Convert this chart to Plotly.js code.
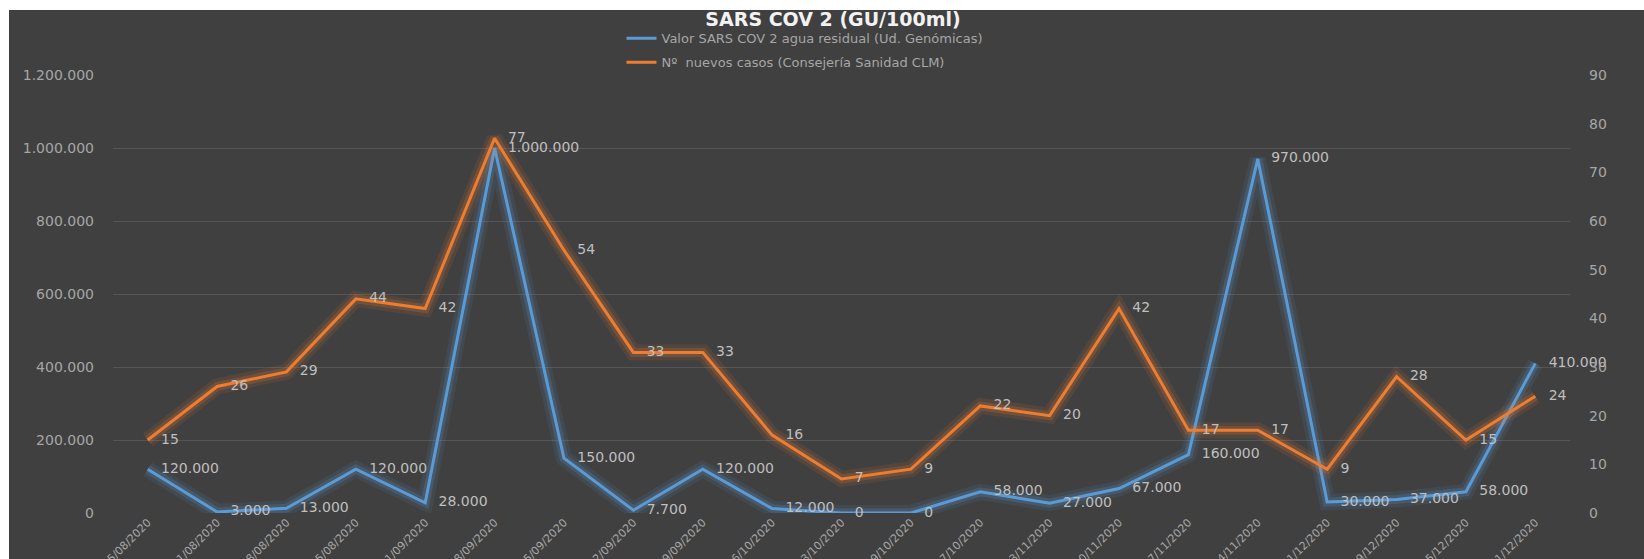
<!DOCTYPE html>
<html>
<head>
<meta charset="utf-8">
<script src="https://cdn.plot.ly/plotly-3.0.1.min.js"></script>
<style>
html,body{margin:0;padding:0;background:#ffffff;width:1644px;height:559px;overflow:hidden;}
#chart{position:absolute;left:9px;top:10px;width:1635px;height:549px;}
</style>
</head>
<body>
<div id="chart"></div>
<script>
// ---- data ----
var fechas = ["05/08/2020","11/08/2020","18/08/2020","25/08/2020","01/09/2020","08/09/2020","15/09/2020",
  "22/09/2020","29/09/2020","06/10/2020","13/10/2020","19/10/2020","27/10/2020","03/11/2020",
  "10/11/2020","17/11/2020","24/11/2020","01/12/2020","09/12/2020","15/12/2020","21/12/2020"];
var valorAgua = [120000, 3000, 13000, 120000, 28000, 1000000, 150000, 7700, 120000, 12000, 0,
  0, 58000, 27000, 67000, 160000, 970000, 30000, 37000, 58000, 410000];
var nuevosCasos = [15, 26, 29, 44, 42, 77, 54, 33, 33, 16, 7, 9, 22, 20, 42, 17, 17, 9, 28, 15, 24];
var nombreAgua = "Valor SARS COV 2 agua residual (Ud. Genómicas)";
var nombreCasos = "Nº  nuevos casos (Consejería Sanidad CLM)";
var tituloGrafico = "SARS COV 2 (GU/100ml)";

var BLUE = "#5B9BD5", ORANGE = "#ED7D31";
var labelFont = {family: "DejaVu Sans", size: 14, color: "#bfbfbf"};
var pad = "\u00a0\u00a0\u00a0";

function glow(y, color, axis, w, op) {
  return {x: fechas, y: y, yaxis: axis, type: "scatter", mode: "lines",
    line: {color: color, width: w}, opacity: op, showlegend: false, hoverinfo: "skip"};
}

var traces = [
  glow(valorAgua, BLUE, "y", 16, 0.10),
  glow(valorAgua, BLUE, "y", 9, 0.20),
  glow(nuevosCasos, ORANGE, "y2", 16, 0.10),
  glow(nuevosCasos, ORANGE, "y2", 9, 0.20),
  {x: fechas, y: valorAgua, yaxis: "y", type: "scatter", mode: "lines+text", name: nombreAgua,
   legendgroup: "a", line: {color: BLUE, width: 3}, texttemplate: pad + "%{y:,.0f}",
   textposition: "middle right", textfont: labelFont, cliponaxis: false},
  {x: fechas, y: nuevosCasos, yaxis: "y2", type: "scatter", mode: "lines+text", name: nombreCasos,
   legendgroup: "b", line: {color: ORANGE, width: 3}, texttemplate: pad + "%{y}",
   textposition: "middle right", textfont: labelFont, cliponaxis: false}
];

var layout = {
  width: 1635, height: 549,
  paper_bgcolor: "#404040", plot_bgcolor: "#404040",
  separators: ",.",
  margin: {l: 104, r: 74, t: 65, b: 46},
  title: {text: tituloGrafico, x: 0.504, xref: "container", y: 0.983, yref: "container",
    xanchor: "center", yanchor: "middle",
    font: {family: "DejaVu Sans", size: 19, color: "#f2f2f2", weight: "bold"}},
  showlegend: true,
  legend: {x: 0.349, xanchor: "left", y: 1.118, yanchor: "top", orientation: "v",
    traceorder: "grouped", tracegroupgap: 4, bgcolor: "rgba(0,0,0,0)",
    font: {family: "DejaVu Sans", size: 13, color: "#a6a6a6"}},
  xaxis: {type: "category", range: [-0.5, 20.5], showgrid: false, zeroline: false,
    showline: false, ticks: "", tickangle: -45, automargin: false,
    tickfont: {family: "DejaVu Sans", size: 11, color: "#a6a6a6"}},
  yaxis: {range: [0, 1200000], dtick: 200000, tickformat: ",d", showgrid: true,
    gridcolor: "#555555", gridwidth: 1, zeroline: false, showline: false, ticks: "",
    ticklabelstandoff: 18, automargin: false,
    tickfont: {family: "DejaVu Sans", size: 14, color: "#a6a6a6"}},
  yaxis2: {range: [0, 90], dtick: 10, overlaying: "y", side: "right", showgrid: false,
    zeroline: false, showline: false, ticks: "", ticklabelstandoff: 18, automargin: false,
    tickfont: {family: "DejaVu Sans", size: 14, color: "#a6a6a6"}}
};

Plotly.newPlot("chart", traces, layout, {displayModeBar: false, staticPlot: true});
</script>
</body>
</html>
